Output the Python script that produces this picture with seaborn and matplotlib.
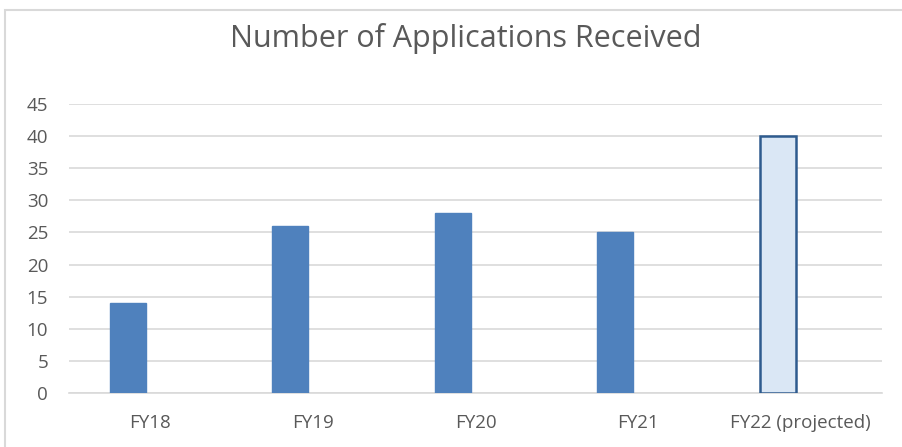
import matplotlib
from matplotlib import pyplot as plt
from matplotlib.patches import Rectangle
import seaborn as sns
import numpy as np
import pandas as pd

years = ["FY18", "FY19", "FY20", "FY21", "FY22 (projected)"]
applications = [14, 26, 28, 25, 40]
# second (empty) series of the original clustered chart, keeps bars off-centre
empty_series = [np.nan] * 5
yticks = list(range(0, 50, 5))

sns.set_theme(style="white")
plt.rcParams["font.family"] = ["Open Sans", "DejaVu Sans"]

df = pd.DataFrame({
    "year": years * 2,
    "apps": applications + empty_series,
    "series": ["applications"] * 5 + ["empty"] * 5,
})

fig = plt.figure(figsize=(9.03, 4.47), dpi=100)
ax = fig.add_axes([69 / 903, 54 / 447, 813 / 903, 289 / 447])

sns.barplot(data=df, x="year", y="apps", hue="series",
            palette=["#4f81bd", "#4f81bd"], legend=False,
            width=0.56, gap=0.21, ax=ax, saturation=1)

bars = [p for p in ax.patches if np.isfinite(p.get_height()) and p.get_height() > 0]
for patch in bars:
    patch.set_edgecolor("#4f81bd")
    patch.set_linewidth(1.0)
    patch.set_zorder(3)
# projected year: pale fill, dark outline
bars[-1].set_facecolor("#dae7f5")
bars[-1].set_edgecolor("#2e5b8e")
bars[-1].set_linewidth(1.8)

ax.set_ylim(0, 45)
ax.set_xlim(-0.5, len(years) - 0.5)
ax.set_yticks(yticks)
ax.yaxis.grid(True, color="#d9d9d9", linewidth=1.2, zorder=0)
ax.set_axisbelow(True)
for side in ["top", "right", "left"]:
    ax.spines[side].set_visible(False)
ax.spines["bottom"].set_color("#d9d9d9")
ax.spines["bottom"].set_linewidth(1.2)
ax.tick_params(axis="both", length=0, colors="#595959", labelsize=13.5)
ax.tick_params(axis="x", pad=15)
ax.tick_params(axis="y", pad=15)
ax.set_xlabel("")
ax.set_ylabel("")

fig.text(466 / 903, 1 - 39 / 447, "Number of Applications Received",
         ha="center", va="center", fontsize=22, color="#595959")

# chart border
fig.patches.append(Rectangle((5 / 903, -0.01), 1.0, 1 - 10 / 447 + 0.01,
                             transform=fig.transFigure, fill=False,
                             edgecolor="#d9d9d9", linewidth=1.5))

fig.savefig("out.png", dpi=100)
